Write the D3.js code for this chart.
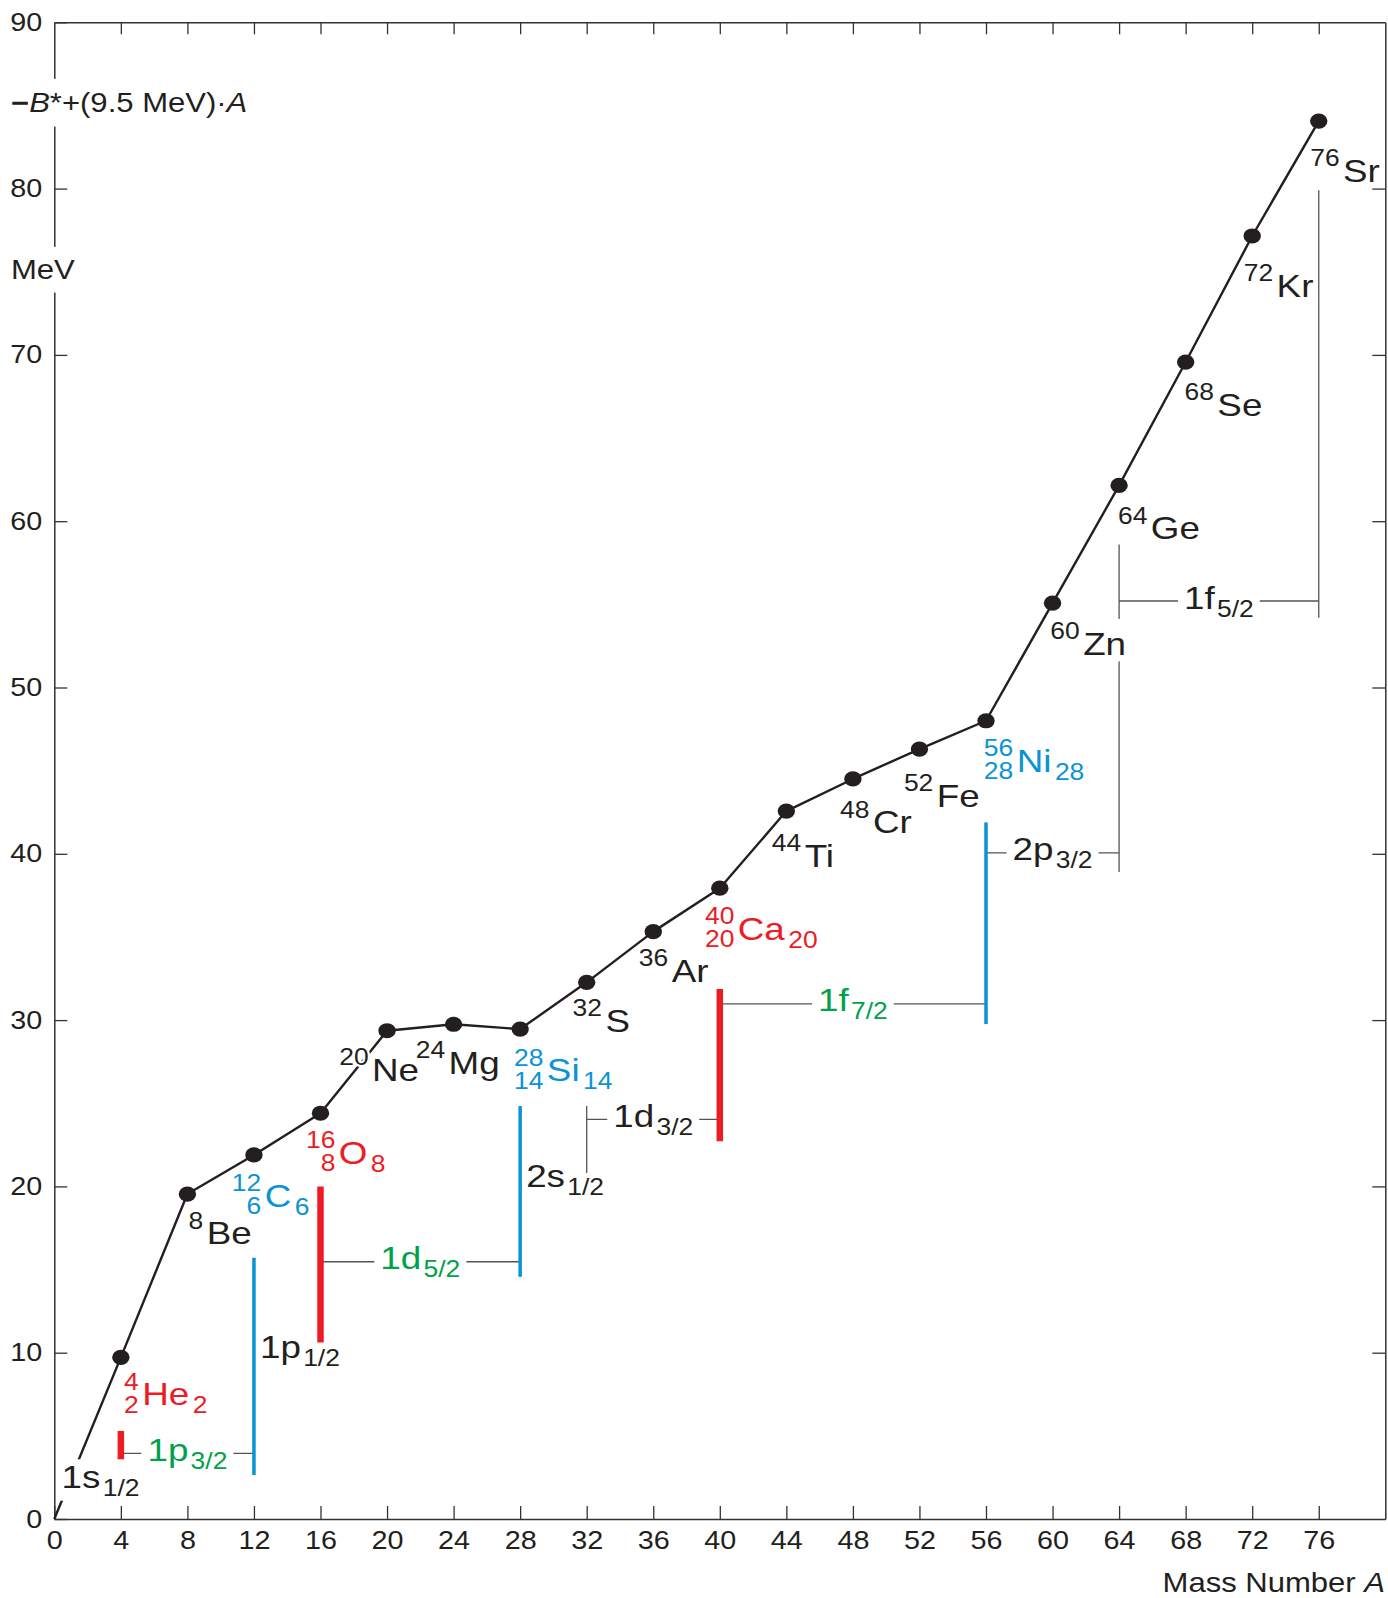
<!DOCTYPE html>
<html><head><meta charset="utf-8">
<script src="https://cdn.jsdelivr.net/npm/d3@7"></script>
<style>
body{margin:0;background:#fff}
svg{display:block}
text{font-family:"Liberation Sans",Arial,Helvetica,sans-serif}
</style>
</head><body>
<svg id="c" width="1388" height="1598"></svg>
<script>
// ---------------- DATA ----------------
const massNumbers = [0, 4, 8, 12, 16, 20, 24, 28, 32, 36, 40, 44, 48, 52, 56, 60, 64, 68, 72, 76];
const energies    = [0, 9.72, 19.54, 21.89, 24.40, 29.36, 29.75, 29.46, 32.27, 35.32, 37.93, 42.57, 44.50, 46.30, 48.00, 55.07, 62.15, 69.57, 77.15, 84.06];
const symbols     = ["", "He", "Be", "C", "O", "Ne", "Mg", "Si", "S", "Ar", "Ca", "Ti", "Cr", "Fe", "Ni", "Zn", "Ge", "Se", "Kr", "Sr"];
const protonNums  = [null, 2, null, 6, 8, null, null, 14, null, null, 20, null, null, null, 28, null, null, null, null, null];
const closureKind = ["", "double", "", "sub", "double", "", "", "sub", "", "", "double", "", "", "", "sub", "", "", "", "", ""];

// thick bars at shell closures
const closureA    = [4, 12, 16, 28, 40, 56];
const closureLow  = [2.65, 2.65, 10.62, 14.56, 22.71, 29.76];
const closureHigh = [5.29, 15.71, 20.0, 24.83, 31.87, 41.89];
const closureType = ["double", "sub", "double", "sub", "double", "sub"];

// thin grey markers
const markerA    = [32, 64, 76];
const markerLow  = [20.8, 38.9, 54.2];
const markerHigh = [24.83, 58.6, 79.9];

// orbitals drawn as brackets between two mass numbers
const orbitalName  = ["1p", "1d", "1d", "1f", "2p", "1f"];
const orbitalJ     = ["3/2", "5/2", "3/2", "7/2", "3/2", "5/2"];
const orbitalFrom  = [4, 16, 32, 40, 56, 64];
const orbitalTo    = [12, 28, 40, 56, 64, 76];
const orbitalLevel = [3.95, 15.47, 24.03, 30.97, 40.05, 55.2];
const orbitalKind  = ["high", "high", "low", "high", "low", "low"];

// orbitals written next to a bar
const freeName  = ["1s", "1p", "2s"];
const freeJ     = ["1/2", "1/2", "1/2"];
const freeA     = [0.44, 12, 28];
const freeLevel = [1.86, 9.68, 19.98];

const xTicks = d3.range(0, 77, 4);
const yTicks = d3.range(0, 91, 10);

// ---------------- LAYOUT / STYLE ----------------
const SX = 1.15; // horizontal stretch of lettering
const colors = {double: "#ed1c24", sub: "#0a93d5", high: "#00a14b", low: "#231f20", "": "#231f20"};
const labelDx = [0, 21.4, 19.3, 10.7, 18.3, -15, -5, 26.7, 18.7, 18.4, 18, 18.3, 20, 17.3, 30.7, 30.6, 31.7, 31.7, 24.4, 24.3];
const labelDy = [0, 47.7, 50, 51.7, 50.7, 50, 49.7, 52, 49.4, 50, 51.7, 55.7, 54.3, 57.7, 51, 51.7, 53.6, 53.7, 60.7, 60.7];
const knockSymbols = ["Zn"];
const freeDx = [0, 6, 6];
const FS_MAIN = 32, FS_SMALL = 23;

const svg = d3.select("#c");
const x = d3.scaleLinear().domain([0, 80]).range([54.3, 1385.3]);
const y = d3.scaleLinear().domain([0, 90]).range([1519, 22.3]);
const X0 = x(0), X1 = x(80), Y0 = y(0), Y1 = y(90);

function scaledGroup(parent, px, py) {
  const outer = parent.append("g").attr("transform", `translate(${px},${py})`);
  const inner = outer.append("g").attr("transform", `scale(${SX},1)`);
  return {outer, inner};
}
function knock(outer, padX, padY) {
  const b = outer.node().getBBox();
  outer.insert("rect", ":first-child")
    .attr("x", b.x - padX).attr("y", b.y - padY)
    .attr("width", b.width + 2 * padX).attr("height", b.height + 2 * padY)
    .attr("fill", "#fff");
}

// ---------------- AXES ----------------
const axisColor = "#333";
function styleAxis(g) {
  g.attr("color", axisColor).attr("font-size", 25)
   .attr("font-family", '"Liberation Sans",Arial,sans-serif');
  g.select(".domain").attr("stroke-width", 1.5);
  g.selectAll(".tick line").attr("stroke-width", 1.3);
  g.selectAll(".tick text").attr("fill", "#231f20").attr("transform", `scale(${SX},1)`);
}
svg.append("g").attr("transform", `translate(0,${Y0})`)
  .call(d3.axisBottom(x).tickValues(xTicks).tickSize(-13).tickSizeOuter(0).tickPadding(12))
  .call(styleAxis);
svg.append("g").attr("transform", `translate(0,${Y1})`)
  .call(d3.axisTop(x).tickValues(xTicks.slice(1)).tickSize(-12).tickSizeOuter(0).tickFormat(""))
  .call(styleAxis);
svg.append("g").attr("transform", `translate(${X0},0)`)
  .call(d3.axisLeft(y).tickValues(yTicks).tickSize(-13).tickSizeOuter(0).tickPadding(10.5))
  .call(styleAxis);
svg.append("g").attr("transform", `translate(${X1},0)`)
  .call(d3.axisRight(y).tickValues(yTicks.slice(1, -1)).tickSize(-13).tickSizeOuter(0).tickFormat(""))
  .call(styleAxis);

// axis titles
{
  const t = scaledGroup(svg, 11, 112);
  const tx = t.inner.append("text").attr("font-size", 27).attr("fill", "#231f20");
  tx.append("tspan").attr("font-weight", "bold").text("−");
  tx.append("tspan").attr("font-style", "italic").text("B");
  tx.append("tspan").text("*+(9.5 MeV)·");
  tx.append("tspan").attr("font-style", "italic").text("A");
  knock(t.outer, 0, 9);
  const m = scaledGroup(svg, 11, 279);
  m.inner.append("text").attr("font-size", 27).attr("fill", "#231f20").text("MeV");
  knock(m.outer, 0, 8);
  const b = scaledGroup(svg, 1385, 1592);
  const bt = b.inner.append("text").attr("font-size", 27).attr("fill", "#231f20").attr("text-anchor", "end");
  bt.append("tspan").text("Mass Number ");
  bt.append("tspan").attr("font-style", "italic").text("A");
}

// ---------------- MARKS ----------------
const grey = "#555";
svg.append("g").selectAll("line").data(markerA).join("line")
  .attr("x1", d => x(d)).attr("x2", d => x(d))
  .attr("y1", (d, i) => y(markerLow[i])).attr("y2", (d, i) => y(markerHigh[i]))
  .attr("stroke", grey).attr("stroke-width", 1.3);
svg.append("g").selectAll("line").data(orbitalFrom).join("line")
  .attr("x1", d => x(d)).attr("x2", (d, i) => x(orbitalTo[i]))
  .attr("y1", (d, i) => y(orbitalLevel[i])).attr("y2", (d, i) => y(orbitalLevel[i]))
  .attr("stroke", grey).attr("stroke-width", 1.3);
svg.append("g").selectAll("line").data(closureA).join("line")
  .attr("x1", d => x(d)).attr("x2", d => x(d))
  .attr("y1", (d, i) => y(closureLow[i])).attr("y2", (d, i) => y(closureHigh[i]))
  .attr("stroke", (d, i) => colors[closureType[i]])
  .attr("stroke-width", (d, i) => closureType[i] === "double" ? 6.5 : 3.5);

const pts = massNumbers.map((a, i) => [a, energies[i]]);
svg.append("path").datum(pts)
  .attr("d", d3.line().x(d => x(d[0])).y(d => y(d[1])))
  .attr("fill", "none").attr("stroke", "#231f20").attr("stroke-width", 2.4).attr("stroke-linejoin", "round");
svg.append("g").selectAll("ellipse").data(pts.slice(1)).join("ellipse")
  .attr("cx", d => x(d[0])).attr("cy", d => y(d[1]))
  .attr("rx", 8.7).attr("ry", 7.6).attr("fill", "#231f20");

// ---------------- LABELS ----------------
orbitalName.forEach((nm, i) => {
  const cx = (x(orbitalFrom[i]) + x(orbitalTo[i])) / 2;
  const g = scaledGroup(svg, cx, y(orbitalLevel[i]) + 7.5);
  const t = g.inner.append("text").attr("text-anchor", "middle").attr("fill", colors[orbitalKind[i]]).attr("font-size", FS_MAIN);
  t.append("tspan").text(nm);
  t.append("tspan").attr("font-size", FS_SMALL).attr("dx", 2).attr("dy", 8).text(orbitalJ[i]);
  knock(g.outer, 6, -4);
});
freeName.forEach((nm, i) => {
  const g = scaledGroup(svg, x(freeA[i]) + freeDx[i], y(freeLevel[i]));
  const t = g.inner.append("text").attr("fill", colors.low).attr("font-size", FS_MAIN);
  t.append("tspan").text(nm);
  t.append("tspan").attr("font-size", FS_SMALL).attr("dx", 2).attr("dy", 8).text(freeJ[i]);
  if (i === 0) knock(g.outer, 2, 0);
});

symbols.forEach((s, i) => {
  if (!s) return;
  const px = x(massNumbers[i]) + labelDx[i], py = y(energies[i]) + labelDy[i];
  const g = scaledGroup(svg, px, py);
  const col = colors[closureKind[i]];
  const halo = sel => sel.attr("stroke", "#fff").attr("stroke-width", 4).attr("paint-order", "stroke").attr("stroke-linejoin", "round");
  const sym = g.inner.append("text").attr("font-size", FS_MAIN).attr("fill", col).text(s).call(halo);
  const w = sym.node().getComputedTextLength();
  g.inner.append("text").attr("font-size", FS_SMALL).attr("fill", col).attr("text-anchor", "end")
    .attr("x", -3).attr("y", -15.5).text(massNumbers[i]).call(halo);
  if (protonNums[i] != null) {
    const n = massNumbers[i] - protonNums[i];
    g.inner.append("text").attr("font-size", FS_SMALL).attr("fill", col).attr("text-anchor", "end")
      .attr("x", -3).attr("y", 7.5).text(protonNums[i]).call(halo);
    g.inner.append("text").attr("font-size", FS_SMALL).attr("fill", col)
      .attr("x", w + 3).attr("y", 8).text(n).call(halo);
  }
  if (knockSymbols.includes(s)) knock(g.outer, 1, 0);
});
</script>
</body></html>
